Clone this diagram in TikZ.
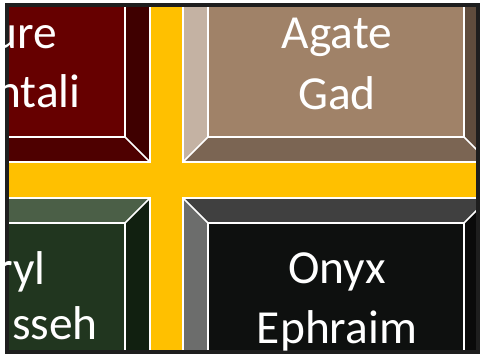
\documentclass[tikz,border=0pt]{standalone}
\usepackage{fontspec}
\newfontfamily\gemfont{Carlito}

% colours of the four stones: front, top, right, bottom, left
\definecolor{crossgold}{HTML}{FFC000}
\definecolor{framegray}{HTML}{1E1E1E}
\definecolor{ligfront}{HTML}{660000}
\definecolor{ligtop}{HTML}{7A1C1C}
\definecolor{ligright}{HTML}{3F0000}
\definecolor{ligbottom}{HTML}{4E0000}
\definecolor{ligleft}{HTML}{8A3A3A}
\definecolor{agafront}{HTML}{A08268}
\definecolor{agatop}{HTML}{B39B86}
\definecolor{agaright}{HTML}{5F4C3D}
\definecolor{agabottom}{HTML}{7B6553}
\definecolor{agaleft}{HTML}{C4B2A3}
\definecolor{berfront}{HTML}{21361F}
\definecolor{bertop}{HTML}{4B5F47}
\definecolor{berright}{HTML}{112010}
\definecolor{berbottom}{HTML}{1A2A18}
\definecolor{berleft}{HTML}{5A6E56}
\definecolor{onyfront}{HTML}{0E100F}
\definecolor{onytop}{HTML}{404040}
\definecolor{onyright}{HTML}{0A0A0A}
\definecolor{onybottom}{HTML}{0A0A0A}
\definecolor{onyleft}{HTML}{6C6D6C}

\begin{document}
\begin{tikzpicture}[x=0.02cm, y=-0.02cm,
            % Style for the white edges of the bevelled stones
            bevelline/.style={draw=white, line width=0.9pt},
            % Style for the stone and tribe names
            gemlabel/.style={text=white, font=\gemfont\fontsize{27}{34.5}\selectfont, align=center, inner sep=0}
        ]
        \useasboundingbox (0,0) rectangle (481,358);

        % --- Gold cross behind the stones ---
        \begin{scope}
        \clip (7,5) rectangle (478,352);
        \fill[crossgold] (7,5) rectangle (478,352);

        % --- Four bevelled stones, 306 x 200 with a 25 bevel ---
        \foreach \xa/\ya/\stone in {-156/-38/lig, 183/-38/aga, -156/198/ber, 183/198/ony} {
            \pgfmathsetmacro\xb{\xa+306}
            \pgfmathsetmacro\yb{\ya+200}
            % bevel faces first
            \fill[fill=\stone top] (\xa,\ya) -- (\xb,\ya) -- ({\xb-25},{\ya+25}) -- ({\xa+25},{\ya+25}) -- cycle;
            \fill[fill=\stone right] (\xb,\ya) -- (\xb,\yb) -- ({\xb-25},{\yb-25}) -- ({\xb-25},{\ya+25}) -- cycle;
            \fill[fill=\stone bottom] (\xb,\yb) -- (\xa,\yb) -- ({\xa+25},{\yb-25}) -- ({\xb-25},{\yb-25}) -- cycle;
            \fill[fill=\stone left] (\xa,\yb) -- (\xa,\ya) -- ({\xa+25},{\ya+25}) -- ({\xa+25},{\yb-25}) -- cycle;
            % then the front face on top
            \fill[fill=\stone front] ({\xa+25},{\ya+25}) rectangle ({\xb-25},{\yb-25});
            % white edges and corner lines
            \draw[bevelline] (\xa,\ya) rectangle (\xb,\yb);
            \draw[bevelline] ({\xa+25},{\ya+25}) rectangle ({\xb-25},{\yb-25});
            \draw[bevelline] (\xa,\ya) -- ({\xa+25},{\ya+25}) (\xb,\ya) -- ({\xb-25},{\ya+25})
                             (\xb,\yb) -- ({\xb-25},{\yb-25}) (\xa,\yb) -- ({\xa+25},{\yb-25});
        }
        \end{scope}

        % Dark frame round the picture
        \draw[framegray, line width=2pt] (7,5) rectangle (478,352);

        % --- Names on the stones ---
        \node[gemlabel] (agate) at (337,64) {Agate\\Gad};
        \node[gemlabel] (onyx) at (337,302) {Onyx\\Ephraim};
        % the left stones are cut by the frame
        \node[gemlabel, anchor=base east] (ligure) at (57,49) {ure};
        \node[gemlabel, anchor=base east] (naphtali) at (81,108) {ntali};
        \node[gemlabel, anchor=base east] (beryl) at (46,285) {ryl};
        \node[gemlabel, anchor=base east] (manasseh) at (98,340) {sseh};

        \end{tikzpicture}
\end{document}
